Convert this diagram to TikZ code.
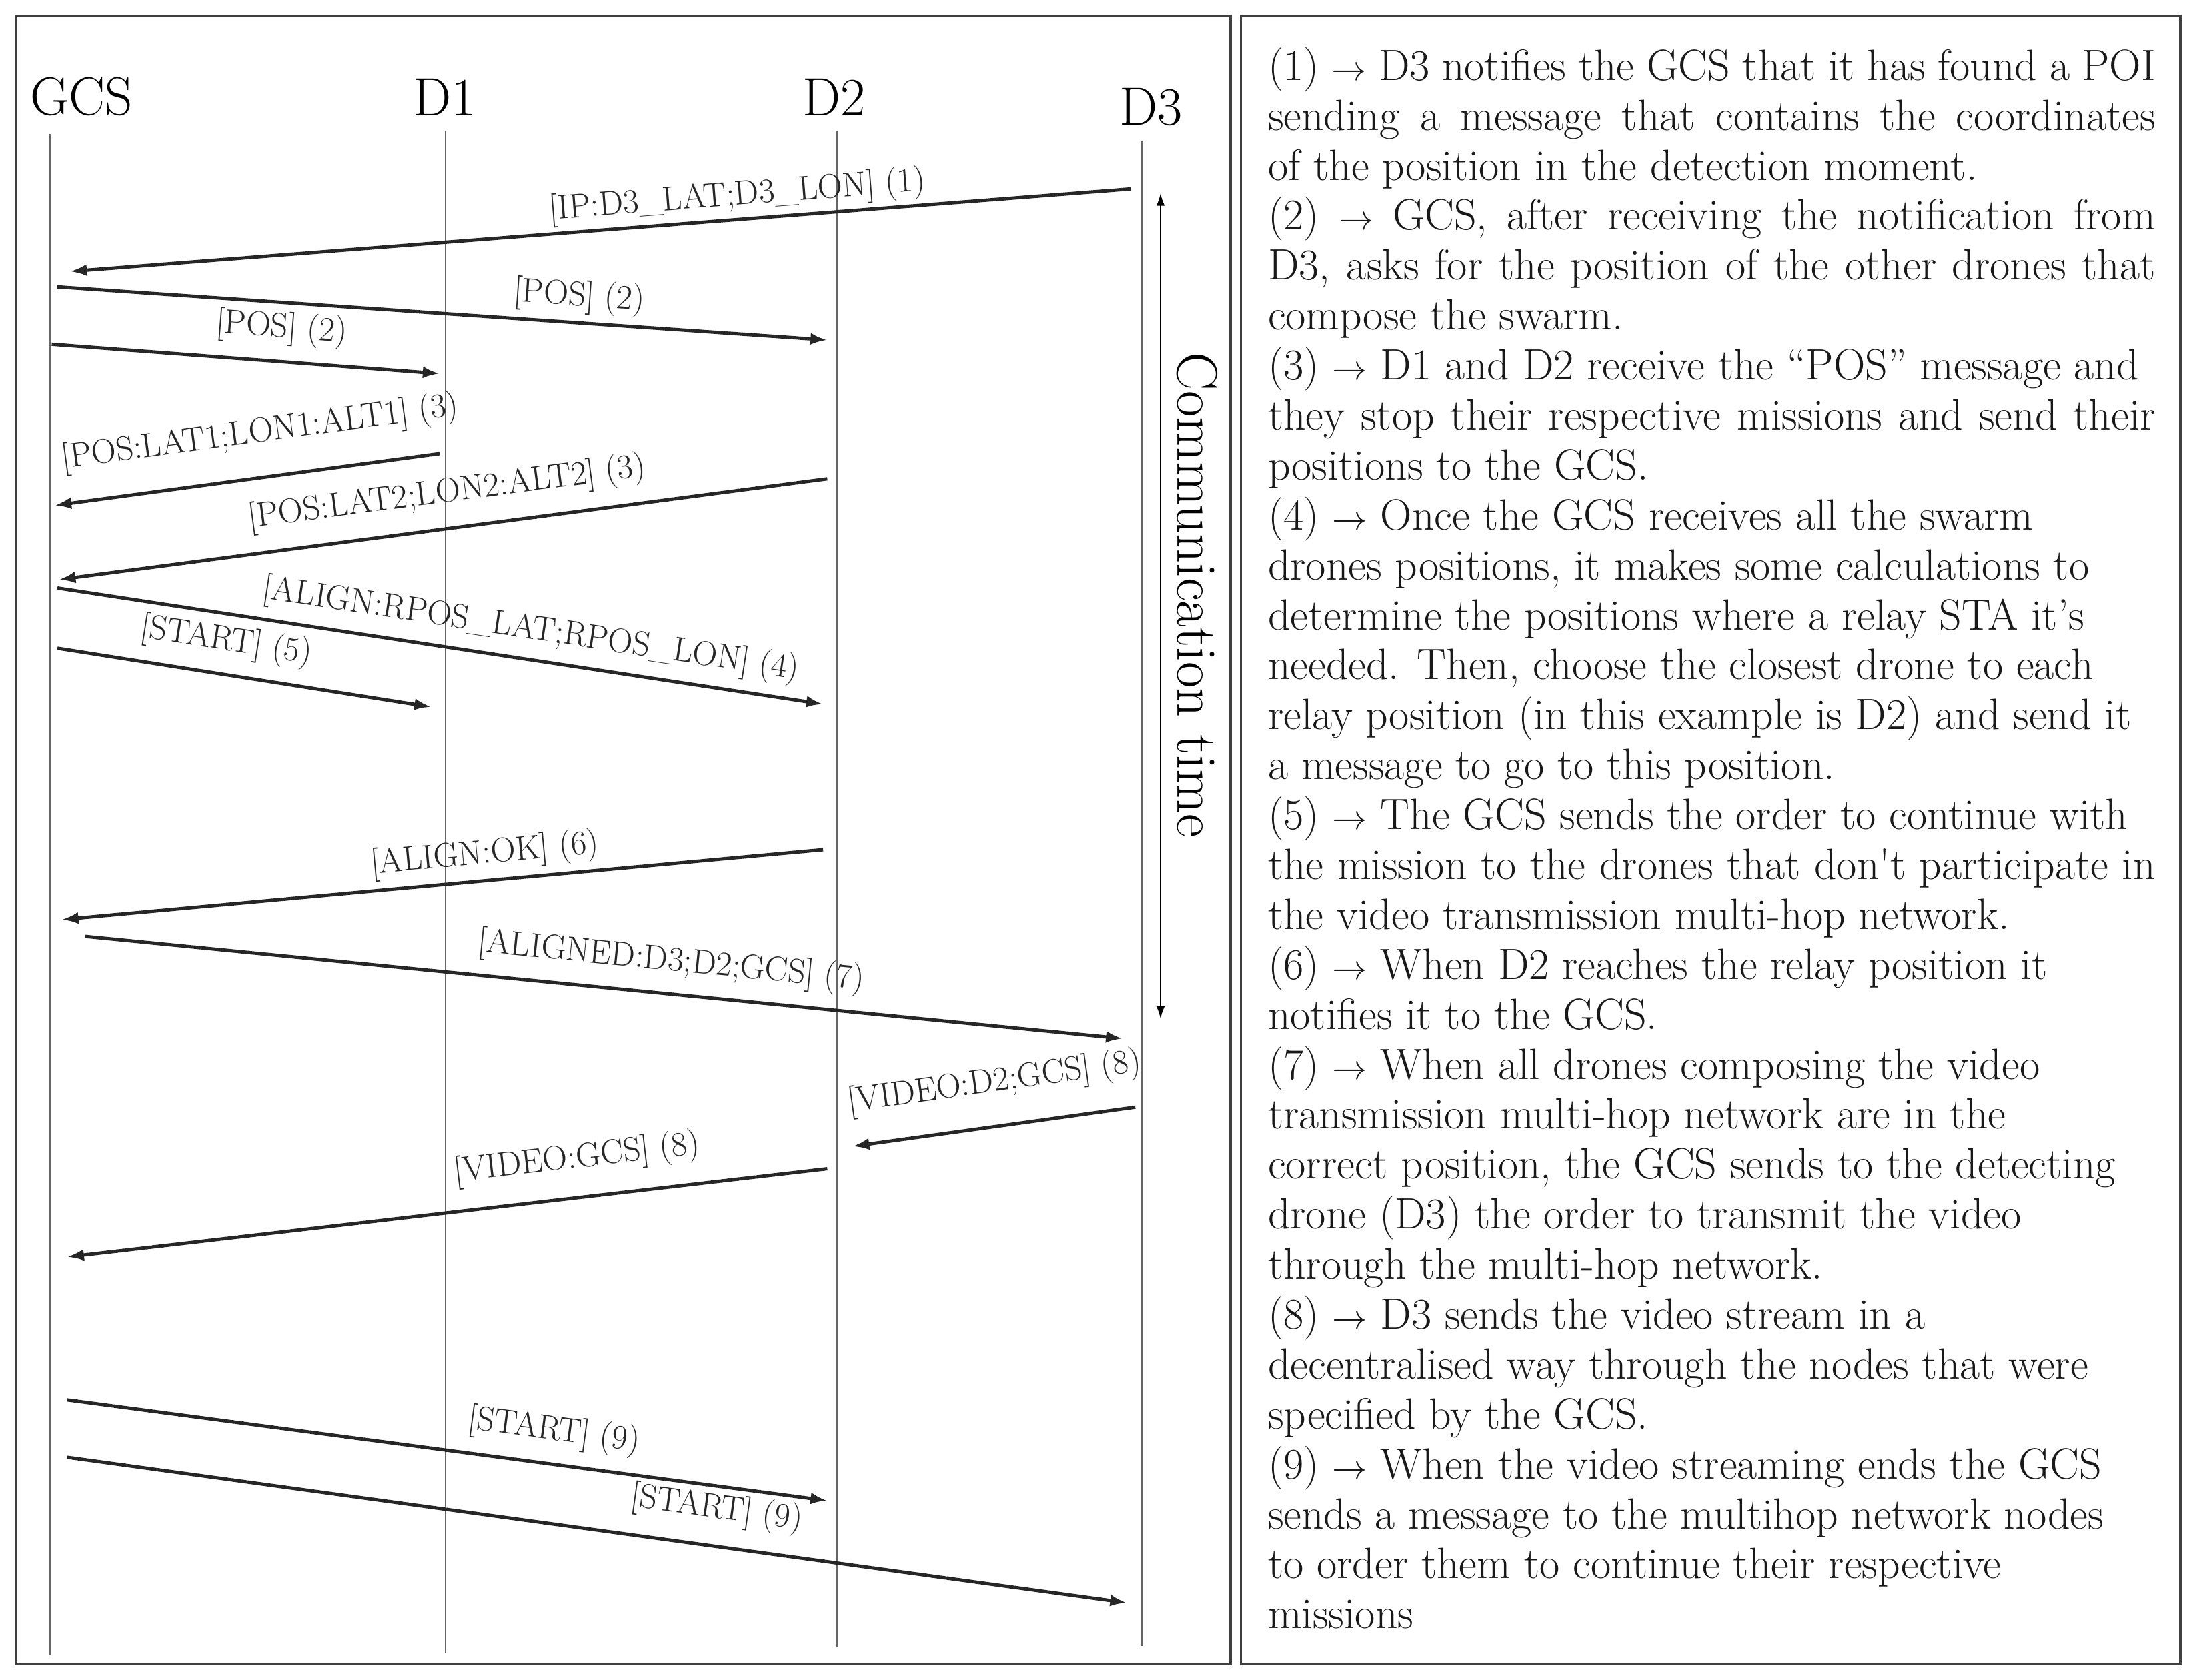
\documentclass[tikz,border=0pt]{standalone}
\usetikzlibrary{arrows.meta}
\newcommand\justline[1]{\makebox[634pt][s]{#1}}
\begin{document}
\begin{tikzpicture}[x=1pt,y=-1pt,
  msg/.style={line width=2.4pt, black!85},
  tipR/.style={-{Latex[length=12pt,width=8.5pt]}},
  tipL/.style={{Latex[length=12pt,width=8.5pt]}-},
  lab/.style={font=\fontsize{24.5}{26}\selectfont, sloped, anchor=south west, inner xsep=0pt, inner ysep=#1, text=black!85},
  life/.style={line width=1.2pt, black!60},
  frame/.style={line width=1.8pt, black!75},
  head/.style={font=\fontsize{38.5}{42}\selectfont, anchor=base, inner sep=0pt},
  body/.style={font=\fontsize{31.3}{35.7}\selectfont, anchor=base west, inner sep=0pt, text=black!90}
]
\useasboundingbox (0,0) rectangle (1568,1200);

% frames
\draw[frame] (11.5,11.4) rectangle (879,1188.6);
\draw[frame] (886.4,11.4) rectangle (1557.4,1188.6);

% headings
\node[head] (hGCS) at (58.2,82) {GCS};
\node[head] (hD1) at (317.7,82.6) {D1};
\node[head] (hD2) at (596,82.6) {D2};
\node[head] (hD3) at (822,89.3) {D3};

% lifelines
\coordinate (gT) at (36,96);   \coordinate (gB) at (36,1182);
\coordinate (d1T) at (318.2,94); \coordinate (d1B) at (318.2,1181);
\coordinate (d2T) at (598,94); \coordinate (d2B) at (598,1177);
\coordinate (d3T) at (816,101); \coordinate (d3B) at (816,1176);
\draw[life] (gT) -- (gB);
\draw[life] (d1T) -- (d1B);
\draw[life] (d2T) -- (d2B);
\draw[life] (d3T) -- (d3B);

% message end points
\coordinate (a1L) at (50,194);   \coordinate (a1R) at (808,135);
\coordinate (a2L) at (41,205);   \coordinate (a2R) at (591,243);
\coordinate (a3L) at (37,246);   \coordinate (a3R) at (314,267);
\coordinate (a4L) at (39,361);   \coordinate (a4R) at (314,324);
\coordinate (a5L) at (42,414);   \coordinate (a5R) at (591,342);
\coordinate (a6L) at (41,420);   \coordinate (a6R) at (588,503);
\coordinate (a7L) at (41,463);   \coordinate (a7R) at (308,505);
\coordinate (a8L) at (44,657);   \coordinate (a8R) at (588,607);
\coordinate (a9L) at (61,669);   \coordinate (a9R) at (802,742);
\coordinate (a10L) at (609,819); \coordinate (a10R) at (811,791);
\coordinate (a11L) at (48,898);  \coordinate (a11R) at (591,835);
\coordinate (a12L) at (48,1000); \coordinate (a12R) at (591,1072);
\coordinate (a13L) at (48,1041); \coordinate (a13R) at (805,1145);

% messages
\draw[msg,tipL] (a1L) -- node[lab=3pt,pos=0.452] (l1) {[IP:D3\_LAT;D3\_LON] (1)} (a1R);
\draw[msg,tipR] (a2L) -- node[lab=5pt,pos=0.588] (l2) {[POS] (2)} (a2R);
\draw[msg,tipR] (a3L) -- node[lab=10pt,pos=0.413] (l3) {[POS] (2)} (a3R);
\draw[msg,tipL] (a4L) -- node[lab=18pt,pos=0.03] (l4) {[POS:LAT1;LON1:ALT1] (3)} (a4R);
\draw[msg,tipL] (a5L) -- node[lab=11.5pt,pos=0.251] (l5) {[POS:LAT2;LON2:ALT2] (3)} (a5R);
\draw[msg,tipR] (a6L) -- node[lab=7.5pt,pos=0.261] (l6) {[ALIGN:RPOS\_LAT;RPOS\_LON] (4)} (a6R);
\draw[msg,tipR] (a7L) -- node[lab=10pt,pos=0.206] (l7) {[START] (5)} (a7R);
\draw[msg,tipL] (a8L) -- node[lab=5pt,pos=0.407] (l8) {[ALIGN:OK] (6)} (a8R);
\draw[msg,tipR] (a9L) -- node[lab=9.5pt,pos=0.374] (l9) {[ALIGNED:D3;D2;GCS] (7)} (a9R);
\draw[msg,tipL] (a10L) -- node[lab=17.5pt,pos=0] (l10) {[VIDEO:D2;GCS] (8)} (a10R);
\draw[msg,tipL] (a11L) -- node[lab=14pt,pos=0.513] (l11) {[VIDEO:GCS] (8)} (a11R);
\draw[msg,tipR] (a12L) -- node[lab=10pt,pos=0.520] (l12) {[START] (9)} (a12R);
\draw[msg,tipR] (a13L) -- node[lab=13pt,pos=0.526] (l13) {[START] (9)} (a13R);

% communication time
\coordinate (ctT) at (829,138);
\coordinate (ctB) at (829,728);
\draw[line width=1.2pt, {Latex[length=9pt,width=6pt]}-{Latex[length=9pt,width=6pt]}] (ctT) -- (ctB);
\node[font=\fontsize{41}{44}\selectfont, rotate=-90, anchor=base, inner sep=0pt] (ct) at (841,425) {Communication time};

% explanation text
\foreach \t [count=\i from 0] in {
 {\justline{(1) $\rightarrow$ D3 notifies the GCS that it has found a POI}},
 {\justline{sending a message that contains the coordinates}},
 {of the position in the detection moment.},
 {\justline{(2) $\rightarrow$ GCS, after receiving the notification from}},
 {\justline{D3, asks for the position of the other drones that}},
 {compose the swarm.},
 {(3) $\rightarrow$ D1 and D2 receive the ``POS'' message and},
 {\justline{they stop their respective missions and send their}},
 {positions to the GCS.},
 {(4) $\rightarrow$ Once the GCS receives all the swarm},
 {drones positions, it makes some calculations to},
 {determine the positions where a relay STA it's},
 {needed. Then, choose the closest drone to each},
 {relay position (in this example is D2) and send it},
 {a message to go to this position.},
 {(5) $\rightarrow$ The GCS sends the order to continue with},
 {\justline{the mission to the drones that don\textquotesingle t participate in}},
 {the video transmission multi-hop network.},
 {(6) $\rightarrow$ When D2 reaches the relay position it},
 {notifies it to the GCS.},
 {(7) $\rightarrow$ When all drones composing the video},
 {transmission multi-hop network are in the},
 {correct position, the GCS sends to the detecting},
 {drone (D3) the order to transmit the video},
 {through the multi-hop network.},
 {(8) $\rightarrow$ D3 sends the video stream in a},
 {decentralised way through the nodes that were},
 {specified by the GCS.},
 {(9) $\rightarrow$ When the video streaming ends the GCS},
 {sends a message to the multihop network nodes},
 {to order them to continue their respective},
 {missions}
}{
 \node[body] (txt\i) at (905.6,{57.3+35.68*\i}) {\t};
}
\end{tikzpicture}
\end{document}
